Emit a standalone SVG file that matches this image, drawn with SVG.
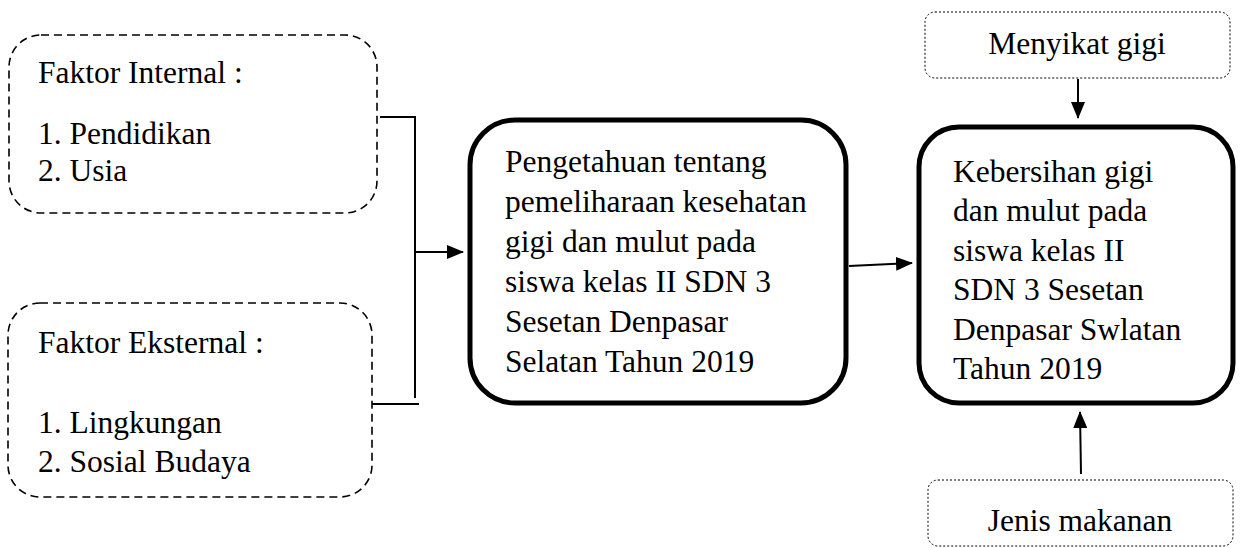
<svg xmlns="http://www.w3.org/2000/svg" width="1246" height="548" viewBox="0 0 1246 548">
<style>
text { font-family: 'Liberation Serif', Tinos, 'Times New Roman', 'DejaVu Serif', serif; font-size: 31.5px; fill: #000; }
.dash { fill: #fff; stroke: #000; stroke-width: 1.6; stroke-dasharray: 8 5; }
.dot { fill: #fff; stroke: #000; stroke-width: 1; stroke-dasharray: 2 2; }
.bold { fill: #fff; stroke: #000; stroke-width: 5; }
.line { fill: none; stroke: #000; stroke-width: 2; }
.mid { text-anchor: middle; }
</style>
<defs>
<marker id="arr" markerWidth="17" markerHeight="14" refX="16" refY="7" orient="auto" markerUnits="userSpaceOnUse">
<path d="M0,0 L17,7 L0,14 Z" fill="#000"/>
</marker>
</defs>
<g id="internal" font-family="Liberation Serif, serif">
<rect class="dash" x="9" y="35" width="368" height="178" rx="32"/>
<text x="38" y="83">Faktor Internal :</text>
<text x="38" y="144">1. Pendidikan</text>
<text x="38" y="181">2. Usia</text>
</g>
<g id="eksternal">
<rect class="dash" x="8" y="303" width="364" height="194" rx="32"/>
<text x="38" y="353">Faktor Eksternal :</text>
<text x="38" y="433">1. Lingkungan</text>
<text x="38" y="472">2. Sosial Budaya</text>
</g>
<g id="pengetahuan">
<rect class="bold" x="470" y="120" width="376" height="283" rx="45"/>
<text x="505" y="172">Pengetahuan tentang</text>
<text x="505" y="212">pemeliharaan kesehatan</text>
<text x="505" y="252">gigi dan mulut pada</text>
<text x="505" y="292">siswa kelas II SDN 3</text>
<text x="505" y="332">Sesetan Denpasar</text>
<text x="505" y="372">Selatan Tahun 2019</text>
</g>
<g id="kebersihan">
<rect class="bold" x="919" y="127" width="314" height="276" rx="40"/>
<text x="953" y="182">Kebersihan gigi</text>
<text x="953" y="221">dan mulut pada</text>
<text x="953" y="261">siswa kelas II</text>
<text x="953" y="300">SDN 3 Sesetan</text>
<text x="953" y="340">Denpasar Swlatan</text>
<text x="953" y="379">Tahun 2019</text>
</g>
<g id="menyikat">
<rect class="dot" x="925" y="12" width="305" height="66" rx="10"/>
<text class="mid" x="1077" y="54">Menyikat gigi</text>
</g>
<g id="makanan">
<rect class="dot" x="928" y="480" width="305" height="66" rx="10"/>
<text class="mid" x="1080" y="531">Jenis makanan</text>
</g>
<g id="connectors">
<polyline class="line" points="380,117 415,117 415,398"/>
<polyline class="line" points="372,404 419,404"/>
<line class="line" x1="415" y1="252" x2="463" y2="252" marker-end="url(#arr)"/>
<line class="line" x1="849" y1="266" x2="912" y2="263" marker-end="url(#arr)"/>
<line class="line" x1="1078" y1="79" x2="1078" y2="118" marker-end="url(#arr)"/>
<line class="line" x1="1081" y1="474" x2="1080" y2="412" marker-end="url(#arr)"/>
</g>
</svg>
